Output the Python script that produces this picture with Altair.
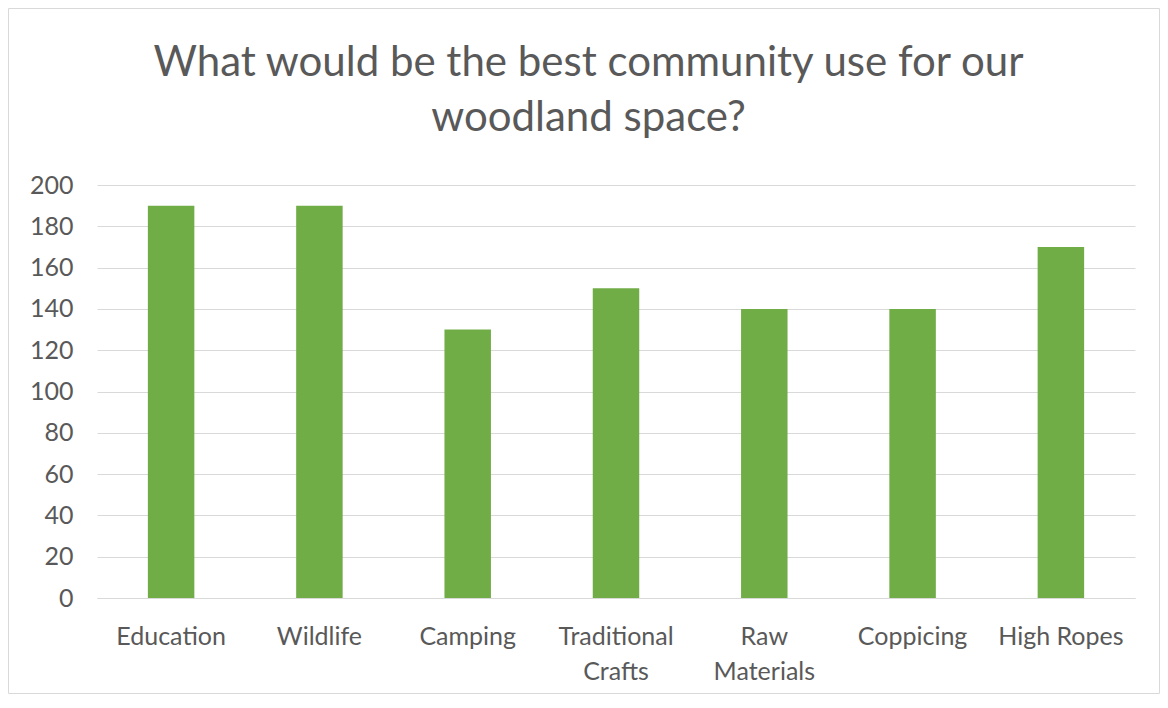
import altair as alt
import pandas as pd

categories = ["Education", "Wildlife", "Camping", "Traditional Crafts",
              "Raw Materials", "Coppicing", "High Ropes"]
values = [190, 190, 130, 150, 140, 140, 170]
y_ticks = [0, 20, 40, 60, 80, 100, 120, 140, 160, 180, 200]
wrapped = ["Traditional Crafts", "Raw Materials"]
title_lines = ["What would be the best community use for our", "woodland space?"]

df = pd.DataFrame({"category": categories, "value": values})

W, H = 1038, 413
PL, PT, PR, PB = 89, 177, 25, 96

GREY_TXT = "#595959"
GRID = "#D9D9D9"
FONT = "Lato"

label_expr = ("indexof(" + str(wrapped) + ", datum.label) >= 0 ? "
              "split(datum.label, ' ') : datum.label")

bars = alt.Chart(df).mark_bar(color="#70AD47").encode(
    x=alt.X("category:N", sort=categories,
            scale=alt.Scale(paddingInner=0.6865, paddingOuter=0.343),
            axis=alt.Axis(title=None, labelAngle=0, ticks=False,
                          domainColor=GRID, domainWidth=1,
                          labelFontSize=25, labelColor=GREY_TXT, labelFont=FONT,
                          labelPadding=26, labelLineHeight=35,
                          labelExpr=label_expr)),
    y=alt.Y("value:Q",
            scale=alt.Scale(domain=[0, 200], nice=False),
            axis=alt.Axis(title=None, values=y_ticks, domain=False, ticks=False,
                          gridColor=GRID, gridWidth=1,
                          labelFontSize=25, labelColor=GREY_TXT, labelFont=FONT,
                          labelPadding=24)),
)

one = pd.DataFrame({"f": [0]})

frame = alt.Chart(one).mark_rect(
    fill=None, fillOpacity=0, stroke=GRID, strokeWidth=1
).encode(
    x=alt.value(-PL + 0.5), x2=alt.value(W + PR - 0.5),
    y=alt.value(-PT + 0.5), y2=alt.value(H + PB - 0.5),
)

title = alt.Chart(one).mark_text(
    font=FONT, fontSize=42, color=GREY_TXT, align="center",
    baseline="alphabetic", lineHeight=55,
).encode(
    text=alt.value(title_lines),
    x=alt.value(491.5), y=alt.value(-109),
)

chart = alt.layer(frame, title, bars).properties(
    width=W, height=H,
    autosize=alt.AutoSizeParams(type="none"),
    padding={"left": PL, "top": PT, "right": PR, "bottom": PB},
    background="white",
).configure_view(stroke=None)

chart.save("out.html", embed_options={"renderer": "svg", "actions": False})
